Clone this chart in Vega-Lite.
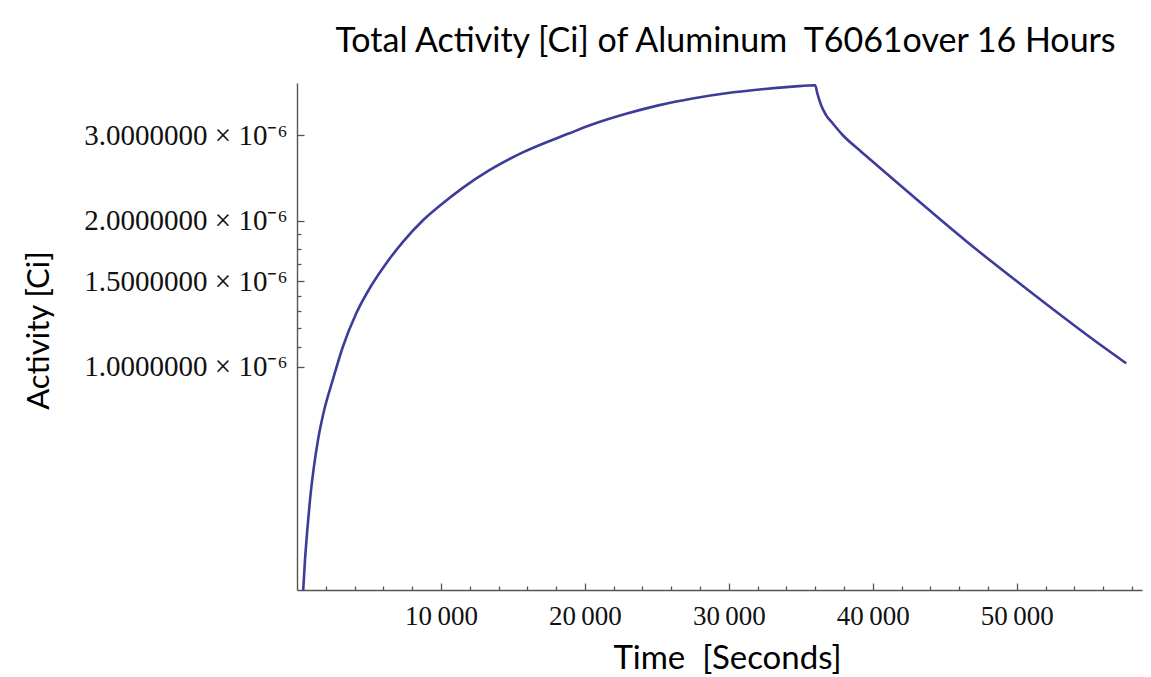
{
  "$schema": "https://vega.github.io/schema/vega-lite/v6.json",
  "width": 845,
  "height": 507,
  "autosize": "none",
  "padding": {"left": 297, "top": 83, "right": 9, "bottom": 87},
  "background": "white",
  "title": {
    "text": "Total Activity [Ci] of Aluminum\u00a0\u00a0T6061over 16 Hours",
    "font": "Lato",
    "fontSize": 34,
    "fontWeight": "normal",
    "color": "#000000",
    "anchor": "middle",
    "offset": 24,
    "dx": 6
  },
  "data": {
    "values": [
      {"t": 431, "a": 3.463e-7},
      {"t": 556, "a": 3.995e-7},
      {"t": 715, "a": 4.606e-7},
      {"t": 903, "a": 5.311e-7},
      {"t": 1146, "a": 6.124e-7},
      {"t": 1458, "a": 7.062e-7},
      {"t": 1840, "a": 8.025e-7},
      {"t": 2486, "a": 9.39e-7},
      {"t": 3181, "a": 1.0981e-6},
      {"t": 4111, "a": 1.2872e-6},
      {"t": 5153, "a": 1.4683e-6},
      {"t": 6194, "a": 1.633e-6},
      {"t": 7347, "a": 1.8066e-6},
      {"t": 8736, "a": 2.0019e-6},
      {"t": 9896, "a": 2.1446e-6},
      {"t": 11514, "a": 2.3378e-6},
      {"t": 13368, "a": 2.542e-6},
      {"t": 15681, "a": 2.7663e-6},
      {"t": 18924, "a": 3.029e-6},
      {"t": 20542, "a": 3.161e-6},
      {"t": 22861, "a": 3.3225e-6},
      {"t": 25174, "a": 3.4623e-6},
      {"t": 27486, "a": 3.5743e-6},
      {"t": 29806, "a": 3.6635e-6},
      {"t": 32118, "a": 3.7301e-6},
      {"t": 34431, "a": 3.7801e-6},
      {"t": 36000, "a": 3.8053e-6},
      {"t": 36146, "a": 3.6617e-6},
      {"t": 36403, "a": 3.464e-6},
      {"t": 36750, "a": 3.3028e-6},
      {"t": 37208, "a": 3.1765e-6},
      {"t": 37903, "a": 3.0046e-6},
      {"t": 39063, "a": 2.7967e-6},
      {"t": 40104, "a": 2.6303e-6},
      {"t": 41840, "a": 2.3747e-6},
      {"t": 46472, "a": 1.8163e-6},
      {"t": 51097, "a": 1.4155e-6},
      {"t": 55729, "a": 1.1137e-6},
      {"t": 57600, "a": 1.016e-6}
    ]
  },
  "mark": {
    "type": "line",
    "color": "#3d3d99",
    "strokeWidth": 2.6,
    "clip": true,
    "interpolate": "monotone"
  },
  "encoding": {
    "x": {
      "field": "t",
      "type": "quantitative",
      "scale": {"domain": [0, 58700], "nice": false, "zero": false},
      "axis": {
        "title": "Time\u00a0\u00a0[Seconds]",
        "titleFont": "Lato",
        "titleFontSize": 33,
        "titleFontWeight": "normal",
        "titleColor": "#000000",
        "titleX": 430,
        "titleY": 78,
        "titleAlign": "center",
        "titleBaseline": "alphabetic",
        "values": [2000, 4000, 6000, 8000, 10000, 12000, 14000, 16000, 18000, 20000, 22000, 24000, 26000, 28000, 30000, 32000, 34000, 36000, 38000, 40000, 42000, 44000, 46000, 48000, 50000, 52000, 54000, 56000, 58000],
        "labelExpr": "datum.value % 10000 === 0 ? format(datum.value / 1000, 'd') + '\u2009000' : ''",
        "labelFont": "Liberation Serif",
        "labelFontSize": 27,
        "labelColor": "#111111",
        "labelPadding": 20,
        "labelFlush": false,
        "labelOverlap": false,
        "labelLimit": 0,
        "grid": false,
        "domainColor": "#555555",
        "domainWidth": 1.4,
        "tickColor": "#555555",
        "tickWidth": 1.3,
        "tickSize": {"condition": {"test": "datum.value % 10000 === 0", "value": -7}, "value": -4}
      }
    },
    "y": {
      "field": "a",
      "type": "quantitative",
      "scale": {"type": "log", "domain": [3.463e-7, 3.846e-6], "nice": false},
      "axis": {
        "title": "Activity [Ci]",
        "titleFont": "Lato",
        "titleFontSize": 31,
        "titleFontWeight": "normal",
        "titleColor": "#000000",
        "titleX": -249,
        "titleY": 247,
        "titleAngle": -90,
        "titleAlign": "center",
        "titleBaseline": "alphabetic",
        "values": [1e-6, 1.1e-6, 1.2e-6, 1.3e-6, 1.4e-6, 1.5e-6, 1.625e-6, 1.75e-6, 1.875e-6, 2e-6, 3e-6],
        "labelExpr": "indexof([10, 15, 20, 30], round(datum.value * 1e7)) >= 0 ? format(datum.value * 1e6, '.7f') + ' \u00d7 10\u207b\u2076' : ''",
        "labelFont": "Liberation Serif",
        "labelFontSize": 29,
        "labelColor": "#111111",
        "labelPadding": 17,
        "labelBaseline": "middle",
        "labelOverlap": false,
        "labelFlush": false,
        "labelLimit": 0,
        "grid": false,
        "domainColor": "#555555",
        "domainWidth": 1.4,
        "tickColor": "#555555",
        "tickWidth": 1.3,
        "tickSize": {"condition": {"test": "indexof([10, 15, 20, 30], round(datum.value * 1e7)) >= 0", "value": -7}, "value": -4}
      }
    }
  },
  "config": {"view": {"stroke": null}}
}
